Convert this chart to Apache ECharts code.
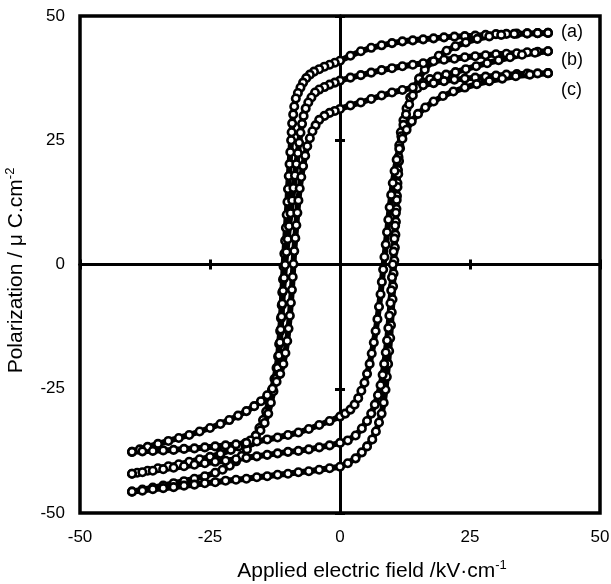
<!DOCTYPE html>
<html>
<head>
<meta charset="utf-8">
<script src="https://cdn.jsdelivr.net/npm/echarts@6/dist/echarts.min.js"></script>
<style>html,body{margin:0;padding:0;background:#fff}#c{width:611px;height:584px}</style>
</head>
<body>
<div id="c"></div>
<script>
// ---- data (E in kV/cm, P in µC/cm²) ----
const xTicks = [-50, -25, 0, 25, 50];
const yTicks = [-50, -25, 0, 25, 50];
const seriesNames = ['(a)', '(b)', '(c)'];

const aUpper = [[40,46.6],[38,46.55],[36,46.5],[34,46.45],[32,46.4],[30,46.35],[28,46.2],[26,46.05],[24,45.95],[22,45.85],[20,45.7],[18,45.5],[16,45.3],[14,45.1],[12,44.9],[10,44.55],[8,44.1],[6,43.6],[4,42.9],[2,42.0],[0,41.0],[-1,40.6],[-2,40.2],[-3,39.8],[-4,39.3],[-5,38.8],[-5.8,38.2],[-6.5,37.5],[-7.1,36.6],[-7.6,35.6],[-8.1,34.5],[-8.5,33.4],[-8.8,31.8],[-9.0,30.2],[-9.2,28.4],[-9.3,26.6],[-9.4,25.0],[-9.55,22.6],[-9.7,20.2],[-9.85,17.8],[-10.0,15.2],[-10.1,12.6],[-10.25,10.0],[-10.4,7.4],[-10.55,4.8],[-10.7,2.2],[-10.85,-0.4],[-10.95,-3.0],[-11.1,-5.6],[-11.2,-8.2],[-11.35,-10.8],[-11.5,-13.4],[-11.7,-16.0],[-11.9,-18.5],[-12.2,-20.8],[-12.6,-23.0],[-13.1,-25.3],[-13.6,-27.5],[-14.2,-29.6],[-14.8,-31.3],[-15.5,-32.9],[-16.2,-34.4],[-17,-35.8],[-17.9,-37.2],[-18.9,-38.5],[-20,-39.6],[-21.2,-40.5],[-22.6,-41.3],[-24,-41.9],[-26,-42.6],[-28,-43.1],[-30,-43.6],[-32,-44.0],[-34,-44.5],[-36,-44.9],[-38,-45.3],[-40,-45.7]];
const aLower = [[-40,-45.7],[-38,-45.5],[-36,-45.2],[-34,-45.0],[-32,-44.8],[-30,-44.5],[-28,-44.3],[-26,-44.0],[-24,-43.8],[-22,-43.5],[-20,-43.3],[-18,-43.1],[-16,-42.8],[-14,-42.6],[-12,-42.3],[-10,-42.1],[-8,-41.8],[-6,-41.6],[-4,-41.3],[-2,-41.0],[0,-40.7],[1.5,-40.0],[3,-39.0],[4.2,-37.8],[5.2,-36.6],[6.2,-35.2],[6.9,-33.6],[7.5,-31.8],[8.0,-30.0],[8.4,-27.8],[8.75,-25.2],[9.0,-22.6],[9.25,-20.0],[9.45,-17.4],[9.65,-14.8],[9.8,-12.2],[9.95,-9.6],[10.1,-7.0],[10.2,-4.4],[10.3,-1.8],[10.45,0.8],[10.55,3.4],[10.65,6.0],[10.75,8.6],[10.85,11.2],[10.95,13.8],[11.05,16.4],[11.15,19.0],[11.25,21.6],[11.4,24.0],[11.7,26.6],[12.2,29.0],[12.8,31.4],[13.5,33.6],[14.3,35.6],[15.2,37.4],[16.3,39.2],[17.6,40.8],[19,42.0],[20.5,43.0],[22.2,43.9],[24.2,44.7],[26.4,45.4],[28.7,45.9],[31,46.2],[33.5,46.4],[36,46.5],[38,46.55],[40,46.6]];

const bUpper = [[40,42.9],[38,42.8],[36,42.7],[34,42.5],[32,42.4],[30,42.3],[28,42.1],[26,41.9],[24,41.7],[22,41.4],[20,41.2],[18,40.9],[16,40.5],[14,40.2],[12,39.9],[10,39.5],[8,39.1],[6,38.6],[4,38.1],[2,37.6],[0,37.0],[-1,36.6],[-2,36.2],[-3,35.7],[-4,35.2],[-4.8,34.6],[-5.5,33.6],[-6.1,32.6],[-6.6,31.4],[-7.0,29.9],[-7.3,28.3],[-7.6,26.5],[-7.85,24.5],[-8.1,22.4],[-8.4,20.2],[-8.65,17.9],[-8.95,15.4],[-9.2,12.9],[-9.5,10.3],[-9.8,7.7],[-10.05,5.1],[-10.3,2.5],[-10.55,-0.1],[-10.75,-2.7],[-10.95,-5.3],[-11.1,-7.9],[-11.25,-10.5],[-11.4,-13.1],[-11.55,-15.7],[-11.75,-18.3],[-12.0,-20.8],[-12.3,-23.0],[-12.8,-25.5],[-13.3,-27.8],[-13.8,-30.0],[-14.5,-31.9],[-15.3,-33.4],[-16.2,-34.5],[-17.2,-35.4],[-18.2,-36.0],[-19.5,-36.6],[-21,-37.3],[-23,-38.1],[-25,-38.7],[-27,-39.2],[-29,-39.7],[-31,-40.2],[-33,-40.6],[-35,-41.0],[-37,-41.5],[-39,-41.9],[-40,-42.1]];
const bLower = [[-40,-42.1],[-38,-41.8],[-36,-41.5],[-34,-41.2],[-32,-40.9],[-30,-40.6],[-28,-40.3],[-26,-40.0],[-24,-39.7],[-22,-39.5],[-20,-39.2],[-18,-38.9],[-16,-38.6],[-14,-38.3],[-12,-38.0],[-10,-37.7],[-8,-37.5],[-6,-37.2],[-4,-36.8],[-2,-36.4],[0,-35.9],[1.5,-35.4],[3,-34.4],[4.2,-33.0],[5.2,-31.5],[6.0,-30.0],[6.7,-28.2],[7.3,-26.3],[7.8,-24.3],[8.2,-22.2],[8.5,-20.0],[8.8,-17.7],[9.05,-15.3],[9.3,-12.8],[9.5,-10.3],[9.7,-7.8],[9.85,-5.2],[10.0,-2.6],[10.15,0],[10.3,2.6],[10.45,5.2],[10.6,7.8],[10.75,10.4],[10.9,13.0],[11.05,15.6],[11.2,18.2],[11.35,20.8],[11.55,23.4],[11.8,25.8],[12.2,28.1],[12.7,30.2],[13.3,32.2],[14.0,34.0],[14.9,35.5],[16.0,36.6],[17.3,37.3],[18.8,37.8],[20.4,38.2],[22.2,38.7],[24.2,39.3],[26.2,39.9],[28.3,40.5],[30.5,41.1],[32.7,41.7],[35,42.2],[37.5,42.6],[40,42.9]];

const cUpper = [[40,38.5],[38,38.45],[36,38.4],[34,38.3],[32,38.2],[30,38.0],[28,37.8],[26,37.6],[24,37.4],[22,37.2],[20,36.9],[18,36.5],[16,36.1],[14,35.6],[12,35.1],[10,34.6],[8,34.0],[6,33.3],[4,32.6],[2,32.0],[0,31.3],[-1,30.9],[-2,30.5],[-3,29.9],[-4,29.1],[-4.7,28.0],[-5.3,26.8],[-5.8,25.4],[-6.3,23.8],[-6.7,21.9],[-7.1,19.8],[-7.45,17.6],[-7.75,15.3],[-8.0,12.9],[-8.2,10.4],[-8.4,7.9],[-8.6,5.3],[-8.8,2.7],[-8.95,0.1],[-9.1,-2.5],[-9.25,-5.1],[-9.45,-7.7],[-9.65,-10.3],[-9.9,-12.9],[-10.15,-15.4],[-10.5,-17.8],[-10.9,-20.0],[-11.5,-22.0],[-12.2,-23.6],[-13.0,-25.0],[-14,-26.3],[-15.2,-27.5],[-16.5,-28.5],[-18,-29.5],[-19.6,-30.4],[-21.3,-31.3],[-23,-32.1],[-25,-32.9],[-27,-33.6],[-29,-34.3],[-31,-34.9],[-33,-35.5],[-35,-36.1],[-37,-36.7],[-38.5,-37.2],[-40,-37.7]];
const cLower = [[-40,-37.7],[-38,-37.6],[-36,-37.5],[-34,-37.4],[-32,-37.3],[-30,-37.1],[-28,-37.0],[-26,-36.8],[-24,-36.6],[-22,-36.4],[-20,-36.2],[-18,-35.9],[-16,-35.6],[-14,-35.2],[-12,-34.8],[-10,-34.3],[-8,-33.8],[-6,-33.1],[-4,-32.3],[-2,-31.5],[0,-30.6],[1,-30.0],[2,-29.2],[2.8,-28.2],[3.5,-26.9],[4.1,-25.4],[4.7,-23.8],[5.2,-22.0],[5.7,-20.0],[6.1,-17.9],[6.5,-15.7],[6.85,-13.4],[7.2,-11.0],[7.5,-8.5],[7.8,-6.0],[8.05,-3.5],[8.3,-1.0],[8.55,1.5],[8.8,4.0],[9.05,6.5],[9.3,9.0],[9.55,11.5],[9.85,14.0],[10.15,16.4],[10.5,18.8],[10.9,21.1],[11.4,23.3],[12.0,25.3],[12.8,27.1],[13.8,28.8],[15,30.3],[16.4,31.6],[18,32.8],[19.8,33.9],[21.8,34.8],[24,35.6],[26.3,36.3],[28.7,36.9],[31.2,37.4],[33.8,37.9],[36.5,38.2],[40,38.5]];

// ---- chart ----
const FONT = '"Liberation Sans", Arial, Helvetica, sans-serif';
const loops = [aUpper.concat(aLower), bUpper.concat(bLower), cUpper.concat(cLower)];

function loopSeries(name, data) {
  return {
    name: name, type: 'line', data: data, xAxisIndex: 0, yAxisIndex: 0,
    symbol: 'circle', symbolSize: 7.5, showSymbol: true, showAllSymbol: true,
    lineStyle: { color: '#000', width: 6 },
    itemStyle: { color: '#fff', borderColor: '#000', borderWidth: 2.6 },
    emphasis: { disabled: true }, animation: false, z: 3
  };
}

const zeroAxisCommon = {
  type: 'value', min: xTicks[0], max: xTicks[xTicks.length - 1], interval: 25,
  axisLabel: { show: false }, splitLine: { show: false },
  axisLine: { show: true, onZero: true, lineStyle: { color: '#000', width: 3 } },
  axisTick: { show: true, inside: true, length: 5, lineStyle: { color: '#000', width: 3 } }
};

const chart = echarts.init(document.getElementById('c'), null, { renderer: 'canvas' });
chart.setOption({
  animation: false,
  backgroundColor: '#fff',
  textStyle: { fontFamily: FONT },
  grid: { left: 80, right: 11, top: 16, bottom: 71, containLabel: false, outerBoundsMode: 'none',
    show: true, borderColor: '#000', borderWidth: 3.5, backgroundColor: 'transparent' },
  xAxis: [
    { type: 'value', position: 'bottom', min: xTicks[0], max: xTicks[xTicks.length - 1], interval: 25,
      axisLine: { show: false, onZero: false }, axisTick: { show: false }, splitLine: { show: false },
      axisLabel: { fontSize: 17, color: '#000', margin: 16, fontFamily: FONT },
      name: 'Applied electric field /kV·cm{s|-1}', nameLocation: 'middle', nameGap: 46,
      nameTextStyle: { fontSize: 21, color: '#000', fontFamily: FONT, padding: [0, 0, 0, 64],
        rich: { s: { fontSize: 13, verticalAlign: 'top', padding: [0, 0, 11, 0], fontFamily: FONT } } } },
    Object.assign({}, zeroAxisCommon, { position: 'bottom' }),
    Object.assign({}, zeroAxisCommon, { position: 'top' })
  ],
  yAxis: [
    { type: 'value', position: 'left', min: yTicks[0], max: yTicks[yTicks.length - 1], interval: 25,
      axisLine: { show: false, onZero: false }, axisTick: { show: false }, splitLine: { show: false },
      axisLabel: { fontSize: 17, color: '#000', margin: 15, fontFamily: FONT },
      name: 'Polarization / μ C.cm{s|-2}', nameLocation: 'middle', nameGap: 52,
      nameTextStyle: { fontSize: 21, color: '#000', fontFamily: FONT, padding: [0, 12, 0, 0],
        rich: { s: { fontSize: 13, verticalAlign: 'top', padding: [0, 0, 11, 0], fontFamily: FONT } } } },
    Object.assign({}, zeroAxisCommon, { position: 'left', min: yTicks[0], max: yTicks[yTicks.length - 1] }),
    Object.assign({}, zeroAxisCommon, { position: 'right', min: yTicks[0], max: yTicks[yTicks.length - 1] })
  ],
  series: loops.map((d, i) => loopSeries(seriesNames[i], d)),
  graphic: [
    { type: 'text', left: 561, top: 23, style: { text: seriesNames[0], fontSize: 18, fill: '#000', fontFamily: FONT } },
    { type: 'text', left: 561, top: 51, style: { text: seriesNames[1], fontSize: 18, fill: '#000', fontFamily: FONT } },
    { type: 'text', left: 561, top: 81, style: { text: seriesNames[2], fontSize: 18, fill: '#000', fontFamily: FONT } }
  ]
});
</script>
</body>
</html>
